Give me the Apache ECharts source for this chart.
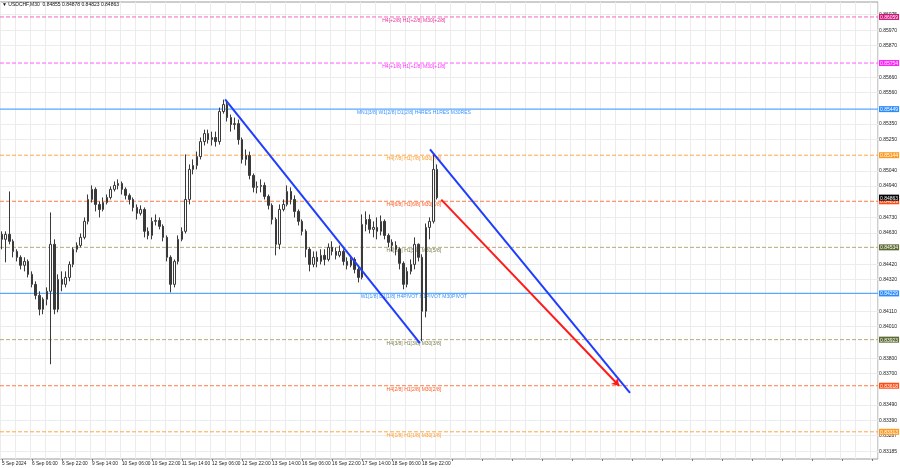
<!DOCTYPE html>
<html><head><meta charset="utf-8">
<script src="https://cdn.jsdelivr.net/npm/echarts@6/dist/echarts.min.js"></script>
<style>html,body{margin:0;padding:0;background:#fff}#c{width:900px;height:468px}</style>
</head><body><div id="c"></div>
<script>
const chartTitle = '\u25BC USDCHF,M30  0.84855 0.84878 0.84823 0.84863';
const timeLabels = ['5 Sep 2024','6 Sep 06:00','6 Sep 22:00','9 Sep 14:00','10 Sep 06:00','10 Sep 22:00','11 Sep 14:00','12 Sep 06:00','12 Sep 22:00','13 Sep 14:00','16 Sep 06:00','16 Sep 22:00','17 Sep 14:00','18 Sep 06:00','18 Sep 22:00'];
const slotCount = 234;
// [open, close, low, high]
const candles = [
[0.84620,0.84587,0.84521,0.84640],[0.84587,0.84620,0.84435,0.84640],[0.84620,0.84574,0.84554,0.84904],[0.84574,0.84507,0.84468,0.84587],
[0.84507,0.84468,0.84441,0.84521],[0.84468,0.84415,0.84388,0.84481],[0.84415,0.84441,0.84375,0.84468],[0.84441,0.84355,0.84335,0.84454],
[0.84355,0.84289,0.84269,0.84375],[0.84289,0.84216,0.84190,0.84309],[0.84216,0.84124,0.84084,0.84243],[0.84124,0.84190,0.84091,0.84203],
[0.84190,0.84243,0.84150,0.84269],[0.84243,0.84554,0.83760,0.84765],[0.84554,0.84124,0.84091,0.84587],[0.84124,0.84322,0.84104,0.84355],
[0.84322,0.84289,0.84243,0.84375],[0.84289,0.84335,0.84269,0.84375],[0.84335,0.84421,0.84309,0.84441],[0.84421,0.84521,0.84402,0.84534],
[0.84521,0.84547,0.84501,0.84567],[0.84547,0.84600,0.84534,0.84626],[0.84600,0.84706,0.84587,0.84732],[0.84706,0.84851,0.84686,0.84884],
[0.84851,0.84918,0.84831,0.84944],[0.84918,0.84818,0.84772,0.84931],[0.84818,0.84785,0.84732,0.84838],[0.84785,0.84831,0.84772,0.84864],
[0.84831,0.84864,0.84818,0.84884],[0.84864,0.84918,0.84851,0.84937],[0.84918,0.84944,0.84904,0.84970],[0.84944,0.84957,0.84918,0.84984],
[0.84957,0.84918,0.84884,0.84970],[0.84918,0.84878,0.84851,0.84931],[0.84878,0.84851,0.84818,0.84891],[0.84851,0.84798,0.84772,0.84864],
[0.84798,0.84759,0.84719,0.84818],[0.84759,0.84785,0.84745,0.84812],[0.84785,0.84640,0.84600,0.84798],[0.84640,0.84613,0.84587,0.84666],
[0.84613,0.84706,0.84587,0.84732],[0.84706,0.84712,0.84679,0.84752],[0.84712,0.84673,0.84653,0.84732],[0.84673,0.84600,0.84574,0.84686],
[0.84600,0.84468,0.84441,0.84613],[0.84468,0.84289,0.84236,0.84481],[0.84289,0.84441,0.84269,0.84454],[0.84441,0.84587,0.84421,0.84613],
[0.84587,0.84640,0.84574,0.84666],[0.84640,0.84851,0.84626,0.85149],[0.84851,0.85050,0.84818,0.85083],[0.85050,0.85076,0.85017,0.85116],
[0.85076,0.85135,0.85050,0.85168],[0.85135,0.85234,0.85116,0.85261],[0.85234,0.85287,0.85208,0.85313],[0.85287,0.85247,0.85221,0.85313],
[0.85247,0.85261,0.85208,0.85300],[0.85261,0.85234,0.85201,0.85300],[0.85234,0.85433,0.85214,0.85459],[0.85433,0.85479,0.85419,0.85512],
[0.85479,0.85393,0.85367,0.85499],[0.85393,0.85347,0.85300,0.85413],[0.85347,0.85353,0.85313,0.85393],[0.85353,0.85247,0.85214,0.85380],
[0.85247,0.85116,0.85089,0.85261],[0.85116,0.85142,0.85076,0.85182],[0.85142,0.85010,0.84984,0.85168],[0.85010,0.84931,0.84898,0.85023],
[0.84931,0.84937,0.84891,0.84970],[0.84937,0.84944,0.84898,0.84984],[0.84944,0.84871,0.84851,0.84964],[0.84871,0.84812,0.84785,0.84884],
[0.84812,0.84719,0.84686,0.84825],[0.84719,0.84554,0.84481,0.84732],[0.84554,0.84785,0.84521,0.84818],[0.84785,0.84818,0.84772,0.84851],
[0.84818,0.84904,0.84805,0.84944],[0.84904,0.84851,0.84818,0.84931],[0.84851,0.84772,0.84732,0.84878],[0.84772,0.84706,0.84679,0.84785],
[0.84706,0.84640,0.84613,0.84719],[0.84640,0.84521,0.84468,0.84653],[0.84521,0.84421,0.84375,0.84534],[0.84421,0.84468,0.84402,0.84507],
[0.84468,0.84441,0.84402,0.84507],[0.84441,0.84481,0.84421,0.84521],[0.84481,0.84454,0.84415,0.84521],[0.84454,0.84534,0.84441,0.84560],
[0.84534,0.84507,0.84481,0.84574],[0.84507,0.84481,0.84454,0.84534],[0.84481,0.84507,0.84468,0.84547],[0.84507,0.84441,0.84415,0.84521],
[0.84441,0.84415,0.84388,0.84468],[0.84415,0.84454,0.84402,0.84481],[0.84454,0.84388,0.84362,0.84468],[0.84388,0.84335,0.84302,0.84415],
[0.84335,0.84686,0.84322,0.84752],[0.84686,0.84719,0.84640,0.84772],[0.84719,0.84653,0.84626,0.84752],[0.84653,0.84666,0.84600,0.84706],
[0.84666,0.84640,0.84587,0.84732],[0.84640,0.84706,0.84613,0.84745],[0.84706,0.84613,0.84587,0.84719],[0.84613,0.84567,0.84534,0.84626],
[0.84567,0.84547,0.84507,0.84587],[0.84547,0.84521,0.84481,0.84574],[0.84521,0.84428,0.84388,0.84534],[0.84428,0.84289,0.84256,0.84441],
[0.84289,0.84375,0.84269,0.84402],[0.84375,0.84421,0.84355,0.84454],[0.84421,0.84554,0.84388,0.84600],[0.84554,0.84468,0.84441,0.84560],
[0.84468,0.84111,0.83913,0.84488],[0.84111,0.84666,0.84071,0.84692],[0.84666,0.84706,0.84587,0.84732],[0.84706,0.85050,0.84692,0.85149],
[0.85050,0.84863,0.84851,0.85083]
];
const tickValues = [0.86075,0.85970,0.85870,0.85660,0.85560,0.85350,0.85250,0.85040,0.84940,0.84730,0.84630,0.84420,0.84320,0.84110,0.84010,0.83800,0.83700,0.83490,0.83390,0.83287,0.83185];
const levelValues = [0.86059,0.85754,0.85449,0.85144,0.84839,0.84534,0.84229,0.83923,0.83618,0.83313];
const levelNames = ['H4[+2/8] H1[+2/8] M30[+2/8]','H4[+1/8] H1[+1/8] M30[+1/8]','MN1[3/8] W1[2/8] D1[2/8] H4RES H1RES M30RES','H4[7/8] H1[7/8] M30[7/8]','H4[6/8] H1[6/8] M30[6/8]','H4[5/8] H1[5/8] M30[5/8]','W1[1/8] D1[1/8] H4PIVOT H1PIVOT M30PIVOT','H4[3/8] H1[3/8] M30[3/8]','H4[2/8] H1[2/8] M30[2/8]','H4[1/8] H1[1/8] M30[1/8]'];
const levelColors = ['#d0147a','#ff22ff','#2b8cff','#ff9a1f','#ff4a10','#5a6b32','#2b8cff','#5a6b32','#ff4a10','#ff9a1f'];
const levelTextColors = ['#e8309a','#ff30ff','#3a94ff','#ff9a2a','#ff5a20','#7a8050','#3a94ff','#7a8050','#ff5a20','#ff9a2a'];
const levelLineColors = ['#f266bc','#ff5cff','#5aa8ff','#ffa648','#ff7a48','#b8a878','#5aa8ff','#b8a878','#ff7a48','#ffa648'];
const levelSolid = [false,false,true,false,false,false,true,false,false,false];
const levelLabelSlot = 109.8;
const currentPrice = 0.84863;
const trendA = [[59.5,0.85514],[111.4,0.83900]];
const trendB = [[114.1,0.85183],[167.4,0.83571]];
const arrowLine = [[117.1,0.84850],[164.5,0.83618]];

const FONT = 'Liberation Sans';
const FS = 5;
const rich = { t: {color:'#222', fontSize:FS, fontFamily:FONT}, cur: {color:'#fff', backgroundColor:'#000', fontSize:FS, fontFamily:FONT, padding:[1,1,0,1]} };
levelColors.forEach((c,i)=>{ rich['L'+i] = {color:'#fff', backgroundColor:c, fontSize:FS, fontFamily:FONT, padding:[1,1,0,1]}; });

const levelSeries = levelValues.map((v,i)=>({
  type:'line', xAxisIndex:1, yAxisIndex:0, symbol:'circle', symbolSize:1, showSymbol:true, z:2, silent:true,
  lineStyle:{color:levelLineColors[i], width: (i===2||i===6)?1.3:1, type: levelSolid[i]?'solid':[4,2]},
  itemStyle:{color:'rgba(0,0,0,0)', borderWidth:0},
  data:[
    [-0.5, v],
    {value:[levelLabelSlot, v], label:{show:true, position:'bottom', distance:0.5, formatter:levelNames[i], color:levelTextColors[i], fontSize:FS, fontFamily:FONT}},
    [slotCount-0.5, v]
  ]
}));

const chart = echarts.init(document.getElementById('c'), null, {renderer:'canvas'});
chart.setOption({
  animation:false,
  backgroundColor:'#fff',
  title:{text:chartTitle, left:2, top:2, padding:0, textStyle:{fontSize:FS, fontWeight:'normal', color:'#111', fontFamily:FONT}},
  grid:{left:0, top:2, right:22, bottom:9, show:true, borderColor:'#9a9a9a', borderWidth:1, outerBoundsMode:'none', containLabel:false},
  xAxis:[{
    type:'category', data:Array.from({length:slotCount},(_,i)=>String(i)), boundaryGap:true,
    axisLine:{show:false},
    axisTick:{show:true, interval:7, length:2, alignWithLabel:true, lineStyle:{color:'#777'}},
    axisLabel:{interval:7, align:'left', margin:2, fontSize:4.8, color:'#222', fontFamily:FONT, formatter:(v,i)=> timeLabels[i/8] || ''},
    splitLine:{show:true, interval:3, lineStyle:{color:'#ececec', width:1}}
  },{
    type:'value', min:-0.5, max:slotCount-0.5, show:false
  }],
  yAxis:[{
    type:'value', position:'right', min:0.83133, max:0.86158,
    axisLine:{show:false},
    axisTick:{show:false, customValues:tickValues},
    splitLine:{show:true, lineStyle:{color:'#ececec', width:1}},
    axisLabel:{
      margin:1, customValues: tickValues.concat(levelValues,[currentPrice]), rich:rich,
      formatter:function(v){
        const s = v.toFixed(5);
        if (Math.abs(v-currentPrice) < 1e-7) return '{cur|'+s+'}';
        for (let i=0;i<levelValues.length;i++) if (Math.abs(v-levelValues[i])<1e-7) return '{L'+i+'|'+s+'}';
        return '{t|'+s+'}';
      }
    }
  }],
  series:[{
    type:'candlestick', xAxisIndex:0, yAxisIndex:0, data:candles, barWidth:2, z:3,
    itemStyle:{color:'#ffffff', color0:'#3a3a3a', borderColor:'#3a3a3a', borderColor0:'#3a3a3a', borderWidth:1}
  }].concat(levelSeries, [{
    type:'line', xAxisIndex:1, yAxisIndex:0, data:trendA, symbol:'none', lineStyle:{color:'#1f3dff', width:2}, z:4
  },{
    type:'line', xAxisIndex:1, yAxisIndex:0, data:trendB, symbol:'none', lineStyle:{color:'#1f3dff', width:2}, z:4,
    markLine:{
      silent:true, animation:false, symbol:['none','arrow'], symbolSize:7, precision:5,
      lineStyle:{color:'#ff1a1a', width:2, type:'solid'}, label:{show:false},
      data:[[{coord:arrowLine[0]},{coord:arrowLine[1]}]]
    }
  }])
});
</script></body></html>
